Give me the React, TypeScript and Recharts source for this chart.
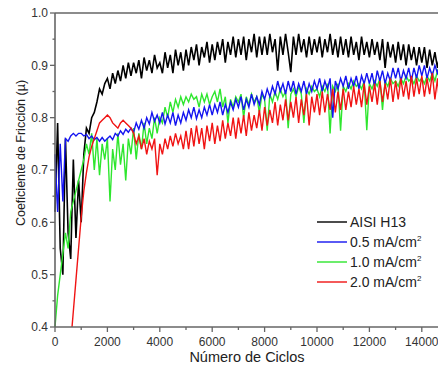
import React from "react";
import { LineChart, Line, XAxis, YAxis, ReferenceLine } from "recharts";

// cycle grid, one sample every 100 cycles
const cycles = Array.from({ length: 151 }, (_, i) => i * 100);

const aisiH13 = [
  0.62, 0.79, 0.55, 0.5, 0.76, 0.58, 0.53, 0.72, 0.57, 0.68,
  0.6, 0.73, 0.78, 0.77, 0.8, 0.81, 0.83, 0.855, 0.845, 0.865,
  0.875, 0.855, 0.885, 0.865, 0.89, 0.87, 0.9, 0.875, 0.905, 0.88,
  0.905, 0.885, 0.91, 0.875, 0.915, 0.89, 0.91, 0.885, 0.92, 0.895,
  0.905, 0.885, 0.925, 0.895, 0.92, 0.885, 0.93, 0.9, 0.925, 0.89,
  0.93, 0.9, 0.935, 0.91, 0.94, 0.9, 0.935, 0.915, 0.945, 0.905,
  0.94, 0.91, 0.945, 0.92, 0.95, 0.905, 0.945, 0.92, 0.955, 0.915,
  0.95, 0.92, 0.955, 0.91, 0.95, 0.925, 0.96, 0.915, 0.955, 0.92,
  0.955, 0.92, 0.96, 0.925, 0.95, 0.89, 0.955, 0.92, 0.96, 0.925,
  0.887, 0.955, 0.92, 0.96, 0.925, 0.95, 0.915, 0.955, 0.92, 0.95,
  0.925, 0.955, 0.915, 0.95, 0.925, 0.96, 0.92, 0.95, 0.915, 0.955,
  0.92, 0.95, 0.915, 0.955, 0.92, 0.945, 0.91, 0.955, 0.92, 0.945,
  0.915, 0.95, 0.92, 0.945, 0.91, 0.95, 0.895, 0.945, 0.915, 0.94,
  0.905, 0.945, 0.91, 0.94, 0.9, 0.94, 0.91, 0.935, 0.9, 0.935,
  0.905, 0.935, 0.895, 0.93, 0.9, 0.925, 0.895, 0.925, 0.9, 0.915,
  0.905,
];

const j05 = [
  0.73, 0.62, 0.75, 0.64, 0.76, 0.755, 0.765, 0.77, 0.765, 0.77,
  0.77, 0.765, 0.768, 0.76, 0.765, 0.758, 0.762, 0.755, 0.762, 0.755,
  0.76, 0.765, 0.758, 0.77, 0.765, 0.775, 0.768, 0.778, 0.772, 0.78,
  0.772, 0.79, 0.778, 0.795, 0.78, 0.8, 0.788, 0.81, 0.793, 0.805,
  0.79, 0.81, 0.788, 0.805, 0.79, 0.81, 0.785, 0.805, 0.79, 0.81,
  0.795, 0.815, 0.8, 0.82, 0.798, 0.815, 0.8, 0.82, 0.805, 0.825,
  0.805, 0.825, 0.81, 0.83, 0.805, 0.825, 0.81, 0.83, 0.815, 0.835,
  0.82, 0.84, 0.815, 0.835, 0.82, 0.845, 0.825, 0.84, 0.825, 0.85,
  0.835, 0.855, 0.84, 0.86, 0.845, 0.87, 0.85, 0.865, 0.845, 0.87,
  0.85, 0.87, 0.845, 0.865, 0.85, 0.87, 0.845, 0.865, 0.85, 0.87,
  0.855, 0.875, 0.85, 0.87, 0.855, 0.875, 0.8, 0.87, 0.855, 0.875,
  0.86, 0.88, 0.855, 0.875, 0.86, 0.88, 0.855, 0.88, 0.865, 0.885,
  0.865, 0.885, 0.86, 0.89, 0.87, 0.89, 0.865, 0.885, 0.87, 0.895,
  0.875, 0.895, 0.87, 0.89, 0.875, 0.895, 0.87, 0.895, 0.875, 0.9,
  0.88, 0.9, 0.875, 0.895, 0.88, 0.9, 0.885, 0.905, 0.885, 0.9,
  0.89,
];

const j10 = [
  0.4, 0.46, 0.5, 0.54, 0.58, 0.55, 0.62, 0.64, 0.66, 0.68,
  0.7, 0.72, 0.75, 0.73, 0.77, 0.7, 0.76, 0.69, 0.75, 0.72,
  0.76, 0.64, 0.74, 0.7, 0.77, 0.71, 0.75, 0.68, 0.76, 0.73,
  0.78, 0.72, 0.77, 0.74, 0.79, 0.75, 0.78, 0.76, 0.8, 0.77,
  0.8, 0.79, 0.82, 0.8, 0.83, 0.81, 0.835, 0.82, 0.84, 0.825,
  0.84, 0.83, 0.845, 0.835, 0.84, 0.82, 0.845, 0.83, 0.845, 0.825,
  0.84, 0.85, 0.83, 0.855, 0.82, 0.84, 0.79, 0.835, 0.82, 0.84,
  0.83, 0.845, 0.8, 0.84, 0.825, 0.845, 0.83, 0.84, 0.81, 0.845,
  0.835, 0.775, 0.845, 0.83, 0.85, 0.835, 0.855, 0.84, 0.85, 0.78,
  0.845, 0.855, 0.84, 0.86, 0.845, 0.79, 0.855, 0.845, 0.86, 0.85,
  0.855, 0.84, 0.86, 0.85, 0.865, 0.77, 0.86, 0.85, 0.865, 0.775,
  0.86, 0.85, 0.865, 0.855, 0.87, 0.86, 0.865, 0.855, 0.87, 0.776,
  0.865, 0.855, 0.87, 0.86, 0.875, 0.815, 0.87, 0.86, 0.875, 0.865,
  0.87, 0.86, 0.875, 0.865, 0.88, 0.87, 0.875, 0.865, 0.88, 0.87,
  0.875, 0.865, 0.88, 0.87, 0.885, 0.87, 0.89, 0.88, 0.9, 0.885,
  0.87,
];

const j20 = [
  null, null, null, null, null, null, 0.37, 0.43, 0.49, 0.55,
  0.61, 0.66, 0.695, 0.725, 0.745, 0.76, 0.775, 0.79, 0.795, 0.8,
  0.805, 0.8, 0.79, 0.785, 0.78, 0.79, 0.795, 0.79, 0.785, 0.78,
  0.77, 0.75, 0.765, 0.74, 0.76, 0.73, 0.755, 0.74, 0.76, 0.69,
  0.75, 0.73, 0.76, 0.74, 0.765, 0.745, 0.77, 0.75, 0.765, 0.74,
  0.775, 0.74, 0.78, 0.745, 0.785, 0.75, 0.78, 0.74, 0.785, 0.755,
  0.79, 0.75, 0.785, 0.755, 0.795, 0.76, 0.79, 0.765, 0.8, 0.76,
  0.8, 0.77, 0.805, 0.765, 0.81, 0.775, 0.805, 0.78, 0.815, 0.775,
  0.82, 0.785, 0.815, 0.79, 0.83, 0.785, 0.825, 0.795, 0.835, 0.795,
  0.83, 0.8, 0.84, 0.79, 0.835, 0.805, 0.845, 0.785, 0.84, 0.81,
  0.845, 0.805, 0.85, 0.81, 0.845, 0.815, 0.855, 0.81, 0.85, 0.815,
  0.855, 0.815, 0.85, 0.82, 0.86, 0.825, 0.855, 0.82, 0.865, 0.825,
  0.86, 0.83, 0.865, 0.825, 0.87, 0.83, 0.865, 0.835, 0.875, 0.83,
  0.87, 0.835, 0.875, 0.84, 0.87, 0.835, 0.88, 0.84, 0.875, 0.845,
  0.88, 0.84, 0.875, 0.845, 0.885, 0.835, 0.875, 0.81, 0.865, 0.835,
  0.85,
];

const xTicks = [0, 1000, 2000, 3000, 4000, 5000, 6000, 7000, 8000, 9000, 10000, 11000, 12000, 13000, 14000];
const yTicks = [0.4, 0.45, 0.5, 0.55, 0.6, 0.65, 0.7, 0.75, 0.8, 0.85, 0.9, 0.95, 1.0];

const series = [
  { key: "h13", name: "AISI H13", sup: "", color: "#000000", width: 1.6 },
  { key: "j05", name: "0.5 mA/cm", sup: "2", color: "#1414f0", width: 1.4 },
  { key: "j10", name: "1.0 mA/cm", sup: "2", color: "#2ee62e", width: 1.4 },
  { key: "j20", name: "2.0 mA/cm", sup: "2", color: "#f01414", width: 1.4 },
];

const data = cycles.map((c, i) => ({
  c,
  h13: aisiH13[i],
  j05: j05[i],
  j10: j10[i],
  j20: j20[i],
}));

const FONT = "'Liberation Sans', Arial, sans-serif";
const AXIS = "#666";

function XTick({ x, y, payload }: any) {
  const major = payload.value % 2000 === 0;
  const y0 = y - 7;
  return (
    <g>
      <line x1={x} x2={x} y1={y0} y2={y0 + (major ? 5 : 3)} stroke={AXIS} strokeWidth={1.3} />
      {major && (
        <text x={x} y={y0 + 19} textAnchor="middle" fontSize={12} fill="#333" fontFamily={FONT}>
          {payload.value}
        </text>
      )}
    </g>
  );
}

function YTick({ x, y, payload }: any) {
  const major = Math.round(payload.value * 100) % 10 === 0;
  const x0 = x + 7;
  return (
    <g>
      <line x1={x0} x2={x0 - (major ? 5 : 2.5)} y1={y} y2={y} stroke={AXIS} strokeWidth={1.3} />
      {major && (
        <text x={x0 - 7} y={y + 4.3} textAnchor="end" fontSize={12} fill="#333" fontFamily={FONT}>
          {payload.value.toFixed(1)}
        </text>
      )}
    </g>
  );
}

export default function App() {
  return (
    <div style={{ position: "absolute", left: 0, top: 0, width: 438, height: 368, overflow: "hidden", background: "#fff" }}>
      <LineChart width={448} height={368} data={data} margin={{ top: 13, right: 0, bottom: 0, left: 0 }}>
        <XAxis
          dataKey="c"
          type="number"
          domain={[0, 15000]}
          ticks={xTicks}
          height={41}
          tickSize={5}
          tickMargin={2}
          tickLine={false}
          tick={<XTick />}
          axisLine={{ stroke: AXIS, strokeWidth: 1.6 }}
          interval={0}
          label={() => (
            <text x={247} y={362} textAnchor="middle" fontSize={14.5} fill="#222" fontFamily={FONT}>
              Número de Ciclos
            </text>
          )}
        />
        <YAxis
          type="number"
          domain={[0.4, 1.0]}
          ticks={yTicks}
          allowDataOverflow
          width={55}
          tickSize={5}
          tickMargin={2}
          tickLine={false}
          tick={<YTick />}
          axisLine={{ stroke: AXIS, strokeWidth: 1.6 }}
          interval={0}
          label={() => (
            <text
              x={25}
              y={153}
              transform="rotate(-90 25 153)"
              textAnchor="middle"
              fontSize={12.5}
              fill="#222"
              fontFamily={FONT}
            >
              Coeficiente de Fricción (µ)
            </text>
          )}
        />
        <ReferenceLine y={1.0} stroke={AXIS} strokeWidth={1.6} />
        {[series[0], series[2], series[1], series[3]].map((s) => (
          <Line
            key={s.key}
            dataKey={s.key}
            name={s.name}
            stroke={s.color}
            strokeWidth={s.width}
            dot={false}
            type="linear"
            connectNulls={false}
            isAnimationActive={false}
          />
        ))}
      </LineChart>
      <div style={{ position: "absolute", left: 317, top: 212, fontFamily: FONT, fontSize: 14, color: "#222" }}>
        {series.map((s) => (
          <div key={s.key} style={{ display: "flex", alignItems: "center", height: 20 }}>
            <span style={{ display: "inline-block", width: 30, height: 1.5, background: s.color, opacity: 0.7, marginRight: 3 }} />
            <span>
              {s.name}
              {s.sup && <span style={{ fontSize: 8, position: "relative", top: -6 }}>{s.sup}</span>}
            </span>
          </div>
        ))}
      </div>
    </div>
  );
}
